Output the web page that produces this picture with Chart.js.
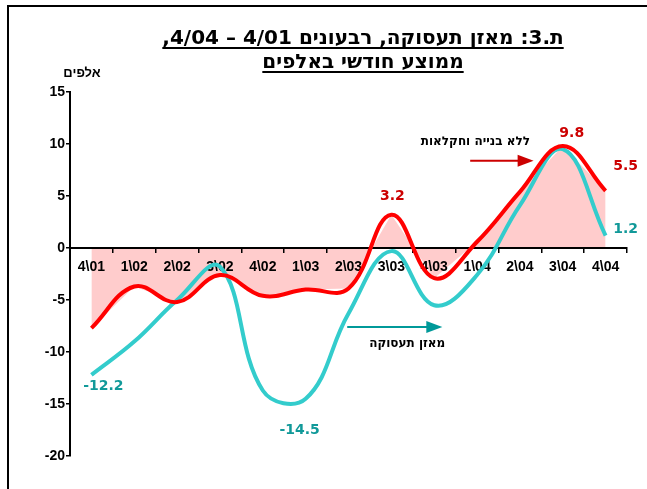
<!DOCTYPE html>
<html>
<head>
<meta charset="utf-8">
<script src="https://cdn.jsdelivr.net/npm/chart.js@4.4.1/dist/chart.umd.min.js"></script>
<style>
  html, body { margin: 0; padding: 0; background: #fff; }
  canvas { display: block; }
</style>
</head>
<body>
<canvas id="balanceChart" width="647" height="489"></canvas>
<script>
// quarters on the x axis
const quarters = ['4\\01', '1\\02', '2\\02', '3\\02', '4\\02', '1\\03', '2\\03', '3\\03', '4\\03', '1\\04', '2\\04', '3\\04', '4\\04'];

// monthly average, thousands
const employmentBalance = [-12.2, -9.0, -5.0, -1.8, -13.7, -14.5, -6.3, -0.3, -5.5, -2.6, 4.1, 9.5, 1.2];
const withoutConstruction = [-7.7, -3.7, -5.2, -2.6, -4.6, -4.0, -3.9, 3.2, -2.9, 0.6, 5.4, 9.8, 5.5];

const yMin = -20;
const yMax = 15;
const yStep = 5;

const titleLines = ['ת.3: מאזן תעסוקה, רבעונים 4/01 – 4/04,', 'ממוצע חודשי באלפים'];
const unitLabel = 'אלפים';

// value labels: dataset index, point index, text
const valueLabels = [
    { ds: 1, i: 0, text: '-12.2', dx: 12, dy: 11 },
    { ds: 1, i: 5, text: '-14.5', dx: -6, dy: 32 },
    { ds: 0, i: 7, text: '3.2', dx: 1, dy: -18 },
    { ds: 0, i: 11, text: '9.8', dx: 9, dy: -13 },
    { ds: 0, i: 12, text: '5.5', dx: 20, dy: -24 },
    { ds: 1, i: 12, text: '1.2', dx: 20, dy: -6 }
];

// series notes with arrows (in data coordinates)
const notes = [
    { text: 'ללא בנייה וחקלאות', x: 8.96, y: 10.2 },
    { text: 'מאזן תעסוקה', x: 7.37, y: -9.2 }
];
const arrows = [
    { from: 8.84, to: 10.32, y: 8.4, color: '#cc0000' },
    { from: 5.97, to: 8.19, y: -7.6, color: '#009999' }
];

const RED = '#ff0000';
const TEAL = '#33cccc';

const decorations = {
    id: 'decorations',
    beforeDraw(chart) {
        const ctx = chart.ctx;
        ctx.save();
        // frame
        ctx.strokeStyle = '#000';
        ctx.lineWidth = 2;
        ctx.beginPath();
        ctx.moveTo(8, 489);
        ctx.lineTo(8, 6);
        ctx.lineTo(647, 6);
        ctx.stroke();

        // title, underlined
        ctx.fillStyle = '#000';
        ctx.font = 'bold 20px "DejaVu Sans"';
        ctx.direction = 'rtl';
        ctx.textAlign = 'center';
        ctx.textBaseline = 'alphabetic';
        const cx = 363;
        const ys = [44, 68];
        titleLines.forEach((line, k) => {
            ctx.fillText(line, cx, ys[k]);
            const w = ctx.measureText(line).width;
            ctx.lineWidth = 2;
            ctx.beginPath();
            ctx.moveTo(cx - w / 2, ys[k] + 4);
            ctx.lineTo(cx + w / 2, ys[k] + 4);
            ctx.stroke();
        });

        // unit
        const area = chart.chartArea;
        ctx.font = 'bold 13px "Liberation Sans", Arial';
        ctx.fillText(unitLabel, area.left + 12, area.top - 15);
        ctx.restore();
    },
    afterDatasetsDraw(chart) {
        const ctx = chart.ctx;
        const xs = chart.scales.x;
        const ys = chart.scales.y;
        ctx.save();

        // value labels
        ctx.font = 'bold 14px "DejaVu Sans"';
        ctx.textAlign = 'center';
        ctx.textBaseline = 'middle';
        valueLabels.forEach(l => {
            const pt = chart.getDatasetMeta(l.ds).data[l.i];
            ctx.fillStyle = l.ds === 0 ? '#cc0000' : '#119999';
            ctx.fillText(l.text, pt.x + l.dx, pt.y + l.dy);
        });

        // notes
        ctx.fillStyle = '#000';
        ctx.font = 'bold 12px "DejaVu Sans"';
        ctx.direction = 'rtl';
        notes.forEach(n => {
            ctx.fillText(n.text, xs.getPixelForValue(n.x), ys.getPixelForValue(n.y));
        });

        // arrows
        arrows.forEach(a => {
            const x1 = xs.getPixelForValue(a.from);
            const x2 = xs.getPixelForValue(a.to);
            const y = ys.getPixelForValue(a.y);
            ctx.strokeStyle = a.color;
            ctx.fillStyle = a.color;
            ctx.lineWidth = 2;
            ctx.beginPath();
            ctx.moveTo(x1, y);
            ctx.lineTo(x2 - 14, y);
            ctx.stroke();
            ctx.beginPath();
            ctx.moveTo(x2, y);
            ctx.lineTo(x2 - 16, y - 6);
            ctx.lineTo(x2 - 16, y + 6);
            ctx.closePath();
            ctx.fill();
        });
        ctx.restore();
    }
};

const ctx = document.getElementById('balanceChart').getContext('2d');
const balanceChart = new Chart(ctx, {
    type: 'line',
    data: {
        labels: quarters,
        datasets: [{
            label: 'ללא בנייה וחקלאות',
            data: withoutConstruction,
            borderColor: RED,
            borderWidth: 4,
            tension: 0.4,
            pointRadius: 0,
            fill: false,
            order: 0
        }, {
            label: 'מאזן תעסוקה',
            data: employmentBalance,
            borderColor: TEAL,
            borderWidth: 4,
            tension: 0.4,
            pointRadius: 0,
            fill: false,
            order: 1
        }, {
            label: 'shade',
            data: withoutConstruction,
            borderWidth: 0,
            backgroundColor: '#ffcccc',
            tension: 0,
            pointRadius: 0,
            fill: 'origin',
            order: 2
        }]
    },
    options: {
        responsive: false,
        animation: false,
        devicePixelRatio: 1,
        layout: {
            padding: { top: 92, bottom: 33, left: 0, right: 20 }
        },
        plugins: {
            legend: { display: false },
            tooltip: { enabled: false },
            title: { display: false },
            filler: { drawTime: 'beforeDraw' }
        },
        scales: {
            x: {
                offset: true,
                position: { y: 0 },
                grid: {
                    drawOnChartArea: false,
                    drawTicks: true,
                    tickLength: 4,
                    color: '#000',
                    lineWidth: 1.5,
                    offset: true
                },
                border: { color: '#000', width: 2 },
                ticks: {
                    color: '#000',
                    font: { family: '"Liberation Sans", Arial', weight: 'bold', size: 14 },
                    padding: 7,
                    maxRotation: 0,
                    autoSkip: false
                }
            },
            y: {
                min: yMin,
                max: yMax,
                afterFit(scale) { scale.width = 70; },
                grid: {
                    drawOnChartArea: false,
                    drawTicks: true,
                    tickLength: 4,
                    color: '#000',
                    lineWidth: 1.5
                },
                border: { color: '#000', width: 2 },
                ticks: {
                    stepSize: yStep,
                    color: '#000',
                    padding: 1,
                    font: { family: '"Liberation Sans", Arial', weight: 'bold', size: 14 }
                }
            }
        }
    },
    plugins: [decorations]
});
</script>
</body>
</html>
